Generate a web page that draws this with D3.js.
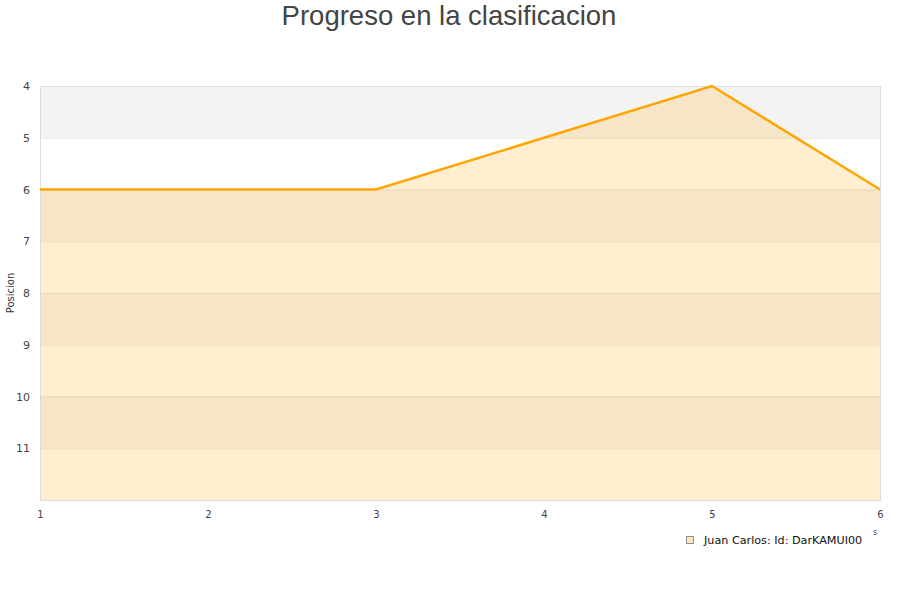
<!DOCTYPE html>
<html><head><meta charset="utf-8">
<script src="https://cdn.jsdelivr.net/npm/d3@7/dist/d3.min.js"></script>
<style>body{margin:0;background:#fff}svg{display:block}</style>
</head><body>
<svg id="c" width="900" height="600"></svg>
<script>
const jornadas = [1, 2, 3, 4, 5, 6];
const posiciones = [6, 6, 6, 5, 4, 6];
const yTicks = [4, 5, 6, 7, 8, 9, 10, 11];
const seriesName = "Juan Carlos: Id: DarKAMUI00";
const title = "Progreso en la clasificacion";
const yTitle = "Posicion";

const svg = d3.select("#c");
const m = {l: 40, r: 880, t: 86, b: 500};
const x = d3.scaleLinear().domain([1, 6]).range([m.l, m.r]);
const y = d3.scaleLinear().domain([4, 12]).range([m.t, m.b]);

// alternating bands
const bands = d3.range(4, 12);
svg.append("g").selectAll("rect").data(bands).join("rect")
  .attr("x", m.l).attr("width", m.r - m.l)
  .attr("y", d => y(d)).attr("height", d => y(d + 1) - y(d))
  .attr("fill", (d, i) => i % 2 === 0 ? "#f3f3f3" : "#ffffff");

// area
const area = d3.area().x((d, i) => x(jornadas[i])).y0(y(12)).y1(d => y(d));
svg.append("path").datum(posiciones).attr("d", area)
  .attr("fill", "rgb(255,196,80)").attr("fill-opacity", 0.27);

// grid lines
svg.append("g").selectAll("line").data(yTicks.slice(1)).join("line")
  .attr("x1", m.l).attr("x2", m.r)
  .attr("y1", d => y(d) + 0.5).attr("y2", d => y(d) + 0.5)
  .attr("stroke", "#c8b9a0").attr("stroke-opacity", 0.35);

// border
svg.append("rect").attr("x", m.l + 0.5).attr("y", m.t + 0.5)
  .attr("width", m.r - m.l).attr("height", m.b - m.t)
  .attr("fill", "none").attr("stroke", "#dcdcdc");

// line
const line = d3.line().x((d, i) => x(jornadas[i])).y(d => y(d));
svg.append("path").datum(posiciones).attr("d", line)
  .attr("fill", "none").attr("stroke", "#ffa500").attr("stroke-width", 2.5);

// axes
const yAxis = d3.axisLeft(y).tickValues(yTicks).tickSize(0).tickPadding(10);
const gy = svg.append("g").attr("transform", `translate(${m.l},0)`).call(yAxis);
gy.select(".domain").remove();
gy.selectAll("text").attr("fill", "#444").style("font-family", "DejaVu Sans").style("font-size", "11px");

const xAxis = d3.axisBottom(x).tickValues(jornadas).tickFormat(d3.format("d")).tickSize(0).tickPadding(11);
const gx = svg.append("g").attr("transform", `translate(0,${m.b})`).call(xAxis);
gx.select(".domain").remove();
gx.selectAll("text").attr("fill", "#444").style("font-family", "DejaVu Sans").style("font-size", "10px");

// title
svg.append("text").attr("x", 449).attr("y", 25).attr("text-anchor", "middle")
  .attr("fill", "#444").style("font-family", "Liberation Sans").style("font-size", "27.5px").text(title);

// y title
svg.append("text").attr("transform", "translate(14,293) rotate(-90)").attr("text-anchor", "middle")
  .attr("fill", "#333").style("font-family", "DejaVu Sans").style("font-size", "10px").text(yTitle);

// stray x title fragment
svg.append("text").attr("x", 873).attr("y", 535).attr("fill", "#444")
  .style("font-family", "DejaVu Sans").style("font-size", "8px").text("s");

// legend
const lg = svg.append("g").attr("transform", "translate(686,536)");
lg.append("rect").attr("x", 0.5).attr("y", 0.5).attr("width", 7).attr("height", 7)
  .attr("fill", "#ffe8c0").attr("stroke", "#777").attr("stroke-width", 0.8);
lg.append("text").attr("x", 18).attr("y", 7.5).attr("fill", "#111")
  .style("font-family", "DejaVu Sans").style("font-size", "11.2px").text(seriesName);
</script>
</body></html>
